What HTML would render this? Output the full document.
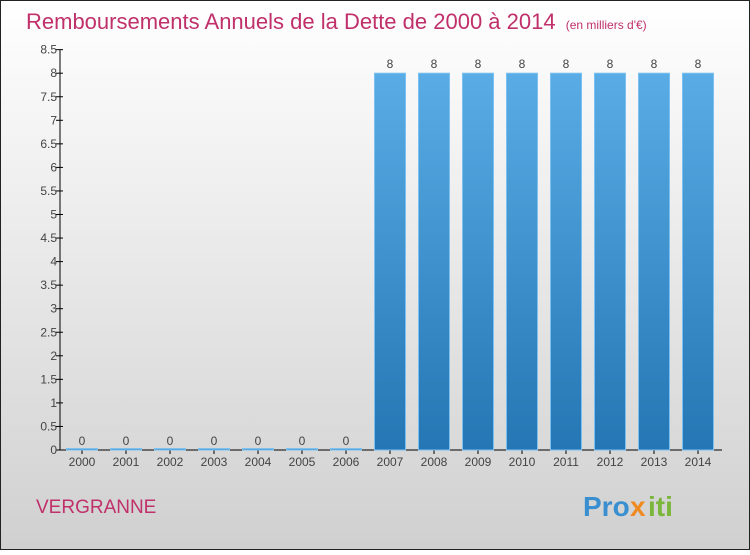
<!DOCTYPE html>
<html><head><meta charset="utf-8"><style>
body{margin:0;width:750px;height:550px;overflow:hidden;font-family:"Liberation Sans",sans-serif}
</style></head><body>
<svg width="750" height="550" xmlns="http://www.w3.org/2000/svg">
<defs>
<linearGradient id="bg" x1="0" y1="0" x2="0" y2="1"><stop offset="0" stop-color="#ffffff"/><stop offset="1" stop-color="#d0d0d0"/></linearGradient>
<linearGradient id="bar" x1="0" y1="0" x2="0" y2="1"><stop offset="0" stop-color="#5aace6"/><stop offset="1" stop-color="#2476b4"/></linearGradient>
</defs>
<rect x="0.5" y="0.5" width="749" height="549" fill="url(#bg)" stroke="#222"/>
<text x="26" y="29" font-size="22" fill="#c0306a">Remboursements Annuels de la Dette de 2000 à 2014 <tspan font-size="12" dx="4">(en milliers d'€)</tspan></text>
<g id="axes"></g>
<g id="bars"></g>
<text x="36" y="513" font-size="19" fill="#c0306a">VERGRANNE</text>
<g font-size="28" font-weight="bold">
<text x="583" y="516" fill="#3a8fd0">Pro</text><text x="630" y="516" fill="#f08a20">x</text><text x="648" y="516" fill="#7ab63a">iti</text>
</g>
</svg>
<script>
const categories=["2000","2001","2002","2003","2004","2005","2006","2007","2008","2009","2010","2011","2012","2013","2014"];
const values=[0,0,0,0,0,0,0,8,8,8,8,8,8,8,8];
const yTicks=[0,0.5,1,1.5,2,2.5,3,3.5,4,4.5,5,5.5,6,6.5,7,7.5,8,8.5];
const NS="http://www.w3.org/2000/svg";
const x0=82,step=44,bw=31;
const xs=i=>x0+i*step;
const ys=v=>450-v*47.1;
function mk(t,a,p,txt){const e=document.createElementNS(NS,t);for(const k in a)e.setAttribute(k,a[k]);if(txt!==undefined)e.textContent=txt;p.appendChild(e);return e;}
const ax=document.getElementById('axes'),bg=document.getElementById('bars');
let l=mk('line',{x1:60,y1:ys(8.5),x2:60,y2:450,stroke:'#000'},ax);


l=mk('line',{x1:60,y1:450,x2:722,y2:450,stroke:'#000'},ax);


yTicks.forEach(v=>{
 mk('line',{x1:56,y1:ys(v),x2:63,y2:ys(v),stroke:'#000'},ax);
 const t=mk('text',{x:57,y:ys(v)+4,'font-size':12,fill:'#444','text-anchor':'end'},ax,String(v));
 
 
});
categories.forEach((c,i)=>{
 mk('line',{x1:xs(i),y1:450,x2:xs(i),y2:454,stroke:'#000'},ax);
 const t=mk('text',{x:xs(i),y:466,'font-size':12,fill:'#444','text-anchor':'middle'},ax,c);
 
 
 const v=values[i];
 const h=Math.max(450-ys(v),1.5);
 const r=mk('rect',{x:xs(i)-bw/2,y:450-h,width:bw,height:h,fill:'url(#bar)',stroke:'#7cc0f0','stroke-width':1},bg);
 
 
 const lb=mk('text',{x:xs(i),y:ys(v)-5,'font-size':12,fill:'#444','text-anchor':'middle'},bg,String(v));
 
 
});
</script>
</body></html>
